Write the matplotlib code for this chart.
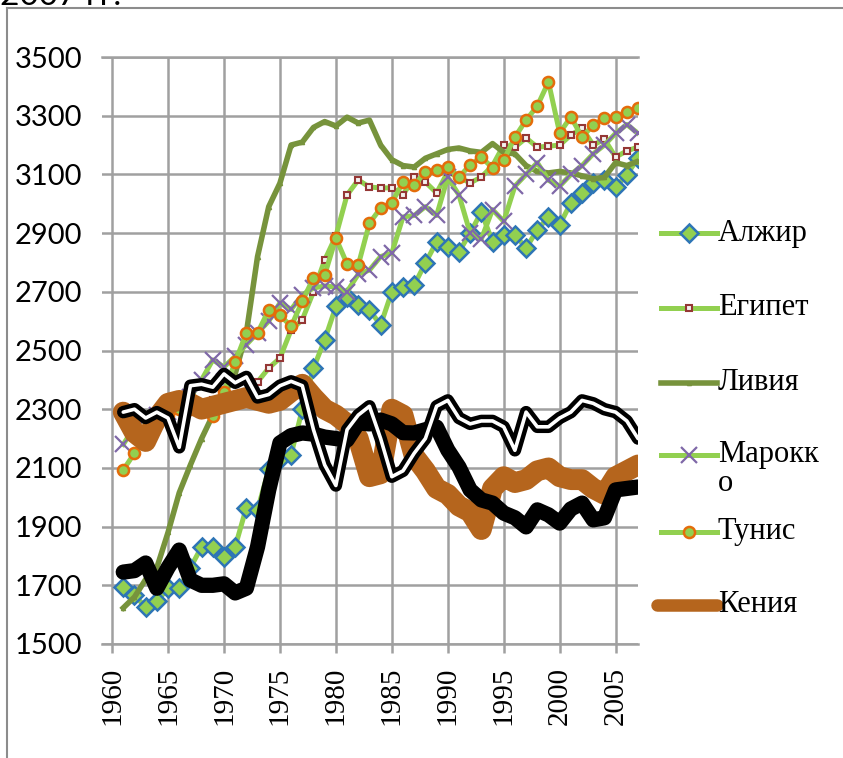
import matplotlib
matplotlib.use("Agg")
import matplotlib.pyplot as plt
from matplotlib.lines import Line2D
import matplotlib.patheffects as pe

years = list(range(1961, 2008))

algeria = [1694, 1667, 1625, 1645, 1690, 1690, 1760, 1831, 1831, 1795,
           1831, 1965, 1957, 2095, 2130, 2145, 2300, 2440, 2536, 2650,
           2682, 2655, 2638, 2587, 2700, 2716, 2723, 2798, 2870, 2853,
           2836, 2900, 2972, 2870, 2894, 2894, 2849, 2911, 2955, 2928,
           3003, 3037, 3071, 3081, 3057, 3098, 3156]
egypt = [2280, 2270, 2280, 2290, 2300, 2300, 2310, 2320, 2330, 2330,
         2340, 2360, 2393, 2440, 2474, 2570, 2605, 2700, 2808, 2890,
         3030, 3081, 3057, 3054, 3054, 3030, 3091, 3074, 3037, 3108,
         3090, 3071, 3091, 3130, 3200, 3193, 3224, 3193, 3196, 3200,
         3234, 3258, 3200, 3220, 3159, 3180, 3193]
libya = [1623, 1660, 1720, 1760, 1880, 2015, 2110, 2200, 2280, 2350,
         2420, 2560, 2820, 2990, 3070, 3200, 3210, 3260, 3280, 3265,
         3295, 3275, 3285, 3200, 3150, 3130, 3125, 3155, 3170, 3185,
         3190, 3180, 3175, 3205, 3175, 3170, 3130, 3110, 3105, 3110,
         3105, 3095, 3085, 3090, 3140, 3130, 3145]
morocco = [2180, 2240, 2270, 2280, 2290, 2300, 2340, 2400, 2468, 2444,
           2480, 2520, 2560, 2600, 2662, 2640, 2689, 2713, 2720, 2716,
           2700, 2760, 2774, 2820, 2832, 2955, 2960, 2990, 2960, 3090,
           3030, 2900, 2880, 2980, 2940, 3060, 3100, 3140, 3080, 3060,
           3100, 3130, 3170, 3200, 3240, 3270, 3240]
tunisia = [2093, 2150, 2200, 2250, 2280, 2300, 2300, 2300, 2277, 2360,
           2460, 2560, 2560, 2638, 2621, 2582, 2668, 2747, 2757, 2883,
           2795, 2791, 2934, 2985, 3003, 3074, 3064, 3108, 3115, 3125,
           3091, 3132, 3159, 3122, 3149, 3227, 3285, 3333, 3415, 3241,
           3296, 3227, 3268, 3292, 3296, 3313, 3326]
kenya = [2290, 2220, 2190, 2270, 2320, 2330, 2320, 2300, 2310, 2320,
         2330, 2340, 2330, 2320, 2330, 2360, 2385, 2340, 2300, 2280,
         2250, 2200, 2070, 2080, 2300, 2280, 2140, 2090, 2030, 2010,
         1970, 1950, 1890, 2030, 2070, 2050, 2060, 2090, 2100, 2070,
         2060, 2060, 2030, 2010, 2070, 2090, 2110]
black_thick = [1745, 1750, 1776, 1690, 1760, 1820, 1718, 1700, 1700, 1705,
               1674, 1690, 1831, 2025, 2185, 2210, 2219, 2215, 2205, 2200,
               2195, 2253, 2250, 2263, 2250, 2220, 2219, 2230, 2239, 2161,
               2103, 2025, 1991, 1980, 1946, 1930, 1899, 1957, 1940, 1912,
               1960, 1980, 1923, 1930, 2025, 2030, 2035]
black_double = [2290, 2300, 2270, 2290, 2270, 2170, 2380, 2385, 2375, 2420,
                2390, 2410, 2340, 2350, 2380, 2395, 2380, 2230, 2110, 2040,
                2230, 2280, 2310, 2200, 2070, 2090, 2150, 2200, 2310, 2330,
                2270, 2250, 2260, 2260, 2240, 2160, 2290, 2240, 2240, 2270,
                2290, 2330, 2320, 2300, 2290, 2260, 2200]

legend_labels = ["Алжир", "Египет", "Ливия", "Марокк\nо", "Тунис", "Кения"]
x_ticks = list(range(1960, 2006, 5))
y_ticks = list(range(1500, 3501, 200))

light_green = "#92D050"
grid_gray = "#A0A0A0"
serif = ["Liberation Serif", "DejaVu Serif"]
sans = ["Lato", "DejaVu Sans"]

fig = plt.figure(figsize=(8.43, 7.58), dpi=100)
W, H = 843, 758

# outer frame (top and left edge of the original chart box)
fig.add_artist(Line2D([7 / W, 7 / W], [0, 1 - 8 / H], color="#8C8C8C", lw=1.5,
                      transform=fig.transFigure))
fig.add_artist(Line2D([7 / W, 1], [1 - 8 / H, 1 - 8 / H], color="#8C8C8C", lw=1.5,
                      transform=fig.transFigure))
# caption of the chart above, cut by the crop
fig.text(0.0, 1 - 5 / H, "2007 гг.", fontsize=24, va="baseline", ha="left", family=sans)

ax = fig.add_axes([102 / W, (H - 644) / H, 536 / W, 587 / H])
ax.set_xlim(1959.1, 2007.0)
ax.set_ylim(1500, 3500)

styles = [
    dict(color=light_green, lw=3.6, marker="D", ms=9, mfc=light_green, mec="#2E75B6", mew=1.8),
    dict(color=light_green, lw=3.6, marker="s", ms=4.5, mfc="#F4F0EE", mec="#953735", mew=1.5),
    dict(color="#77933C", lw=4.0, marker="^", ms=3, mfc="#77933C", mec="#77933C"),
    dict(color=light_green, lw=3.6, marker="x", ms=11, mec="#7F68A8", mew=1.6),
    dict(color=light_green, lw=3.6, marker="o", ms=8, mfc=light_green, mec="#E46C0A", mew=1.8),
    dict(color="#B5651D", lw=15, solid_capstyle="round", solid_joinstyle="round"),
]
series = [algeria, egypt, libya, morocco, tunisia, kenya]

for vals, st in zip(series, styles):
    ax.plot(years, vals, zorder=3, **st)

ax.plot(years, black_thick, color="black", lw=11, solid_capstyle="round",
        solid_joinstyle="round", zorder=4)
ax.plot(years, black_double, color="white", lw=2.6, solid_capstyle="round",
        solid_joinstyle="round", zorder=5,
        path_effects=[pe.Stroke(linewidth=9, foreground="black"), pe.Normal()])

ax.set_xticks(x_ticks)
ax.set_yticks(y_ticks)
ax.grid(True, color=grid_gray, lw=1.8)
ax.set_axisbelow(True)
for side in ["left", "right"]:
    ax.spines[side].set_visible(False)
for side in ["top", "bottom"]:
    ax.spines[side].set_color(grid_gray)
    ax.spines[side].set_linewidth(1.8)
ax.tick_params(axis="x", direction="out", length=6.5, width=1.8, color=grid_gray,
               pad=10, labelrotation=90, labelsize=21, labelfontfamily=serif)
ax.tick_params(axis="y", length=0, pad=14, labelsize=21, labelfontfamily=sans)

# legend, drawn by hand (the original is cut and wraps "Марокко")
leg_y = [233, 308, 383, 455, 532, 605]
for lab, st, yy in zip(legend_labels, styles, leg_y):
    fy = 1 - yy / H
    line_st = {k: v for k, v in st.items() if k not in ("marker", "ms", "mfc", "mec", "mew")}
    x0 = 661 / W
    if lab == "Кения":
        x0 = 657 / W
        line_st["lw"] = 9
    fig.add_artist(Line2D([x0, 717 / W], [fy, fy], transform=fig.transFigure, **line_st))
    if "marker" in st:
        fig.add_artist(Line2D([689 / W], [fy], transform=fig.transFigure, ls="none",
                              marker=st["marker"], ms=st["ms"], mfc=st.get("mfc"),
                              mec=st["mec"], mew=st.get("mew", 1)))
    if "\n" in lab:
        fig.text(718 / W, fy + 15 / H, lab, fontsize=22, family=serif, va="top",
                 ha="left", linespacing=1.0)
    else:
        fig.text(718 / W, fy, lab, fontsize=22, family=serif, va="center", ha="left")

fig.savefig("out.png", dpi=100, facecolor="white")
